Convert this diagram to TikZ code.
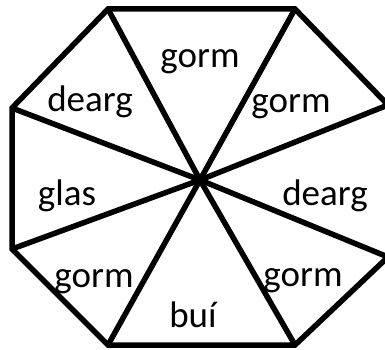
\documentclass[tikz,border=0pt]{standalone}
\usepackage{fontspec}
\setmainfont{Carlito}

\begin{document}
\begin{tikzpicture}[x=1pt, y=-1pt,
		% --- ESTILOS ---
		edge/.style = {line width=5.5pt},
		lbl/.style = {anchor=base, inner sep=0pt, font=\fontsize{37}{40}\selectfont}
		]
		\useasboundingbox (0,0) rectangle (385,350);
		
		% --- VÉRTICES DEL OCTÓGONO ---
		\coordinate (c) at (200,180);
		\coordinate (v1) at (108,9);
		\coordinate (v2) at (295,9);
		\coordinate (v3) at (388,105);
		\coordinate (v4) at (388,257);
		\coordinate (v5) at (295,345);
		\coordinate (v6) at (108,345);
		\coordinate (v7) at (12,249);
		\coordinate (v8) at (12,108);
		
		% --- CONTORNO Y RADIOS ---
		\draw [edge] (v1) -- (v2) -- (v3) -- (v4) -- (v5) -- (v6) -- (v7) -- (v8) -- cycle;
		\foreach \v in {1,...,8}
			\draw [edge] (c) -- (v\v);
		
		% --- ETIQUETAS ---
		\node [lbl] (top) at (200,68) {gorm};
		\node [lbl] (upright) at (291,113) {gorm};
		\node [lbl] (right) at (325,205) {dearg};
		\node [lbl] (lowright) at (303,286) {gorm};
		\node [lbl] (bottom) at (193,327) {buí};
		\node [lbl] (lowleft) at (94,287) {gorm};
		\node [lbl] (left) at (67,205) {glas};
		\node [lbl] (upleft) at (90,112) {dearg};
		
	\end{tikzpicture}
\end{document}
